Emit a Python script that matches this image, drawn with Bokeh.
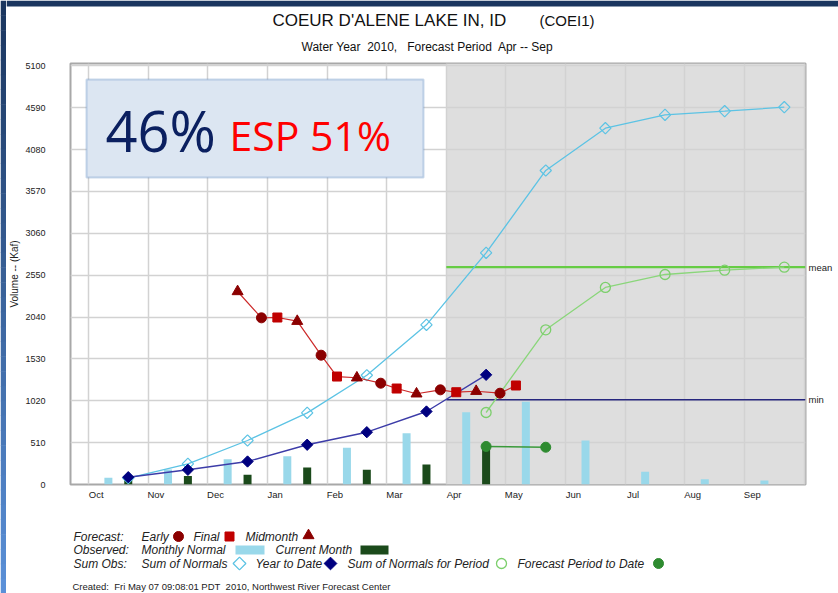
from bokeh.plotting import figure
from bokeh.layouts import column, row
from bokeh.models import (Range1d, FixedTicker, CustomJSTickFormatter,
                          BoxAnnotation, Label, LinearAxis)
from bokeh.embed import file_html
from bokeh.resources import INLINE

# ---------------- data ----------------
months = ["Oct", "Nov", "Dec", "Jan", "Feb", "Mar",
          "Apr", "May", "Jun", "Jul", "Aug", "Sep"]
y_ticks = [0, 510, 1020, 1530, 2040, 2550, 3060, 3570, 4080, 4590, 5100]

# observed (Kaf)
monthly_normal = [82, 183, 307, 343, 447, 625, 879, 1007, 536, 155, 65, 49]
current_month = [89, 104, 118, 207, 179, 244, 463]          # Oct..Apr

# cumulative sums (Kaf), plotted on day 21 of each month
sum_of_normals = [79, 252, 536, 873, 1331, 1945, 2822, 3825, 4340, 4503, 4547, 4596]
year_to_date = [89, 179, 280, 484, 637, 889, 1336]             # Oct..Apr
period_months = ["Apr", "May", "Jun", "Jul", "Aug", "Sep"]
sum_normals_for_period = [877, 1884, 2400, 2558, 2610, 2647]
forecast_period_to_date = [463, 454]                           # Apr, May

# forecasts (Kaf) with (month, day) of issue
early_dates = [("Dec", 28), ("Jan", 28), ("Feb", 28), ("Mar", 28), ("Apr", 28)]
early_values = [2030, 1575, 1234, 1153, 1112]
final_dates = [("Jan", 6), ("Feb", 6), ("Mar", 6), ("Apr", 6), ("May", 6)]
final_values = [2034, 1315, 1169, 1124, 1206]
mid_dates = [("Dec", 16), ("Jan", 16), ("Feb", 16), ("Mar", 16), ("Apr", 16)]
mid_values = [2351, 1989, 1300, 1105, 1136]

mean_value = 2647
min_value = 1032
forecast_period_start = "Apr"

# ---------------- colours / styles ----------------
C_NORMAL_BAR = "#99d8ea"
C_CURRENT_BAR = "#1b4a1b"
C_SUMNORM = "#5cc3e4"
C_YTD = "#00007f"
C_YTD_LINE = "#3c3ca8"
C_PERIOD = "#7ccf6c"
C_PTD = "#2e8b30"
C_EARLY = "#8b0000"
C_FINAL = "#c00000"
C_MID = "#8b0000"
FONT = "Liberation Sans"
TXT = "#222222"

# ---------------- helpers ----------------
def mx(month, day):
    return months.index(month) + (day - 1) / 30.0

PXM = 59.64      # px per month
X0 = 88.0        # page px of Oct 1
SY = 0.0821      # px per Kaf
Y0 = 484.0       # page px of 0 Kaf

def dx(X):
    return (X - X0) / PXM

def dy(Y):
    return (Y0 - Y) / SY

def no_align(f):
    if hasattr(f, "frame_align"):
        f.frame_align = False

def pixel_fig(w, h, x0, y0):
    f = figure(width=w, height=h, x_range=Range1d(x0, x0 + w),
               y_range=Range1d(y0 + h, y0), x_axis_type=None, y_axis_type=None,
               output_backend="svg", toolbar_location=None,
               min_border=0, min_border_left=0, min_border_right=0,
               min_border_top=0, min_border_bottom=0)
    f.outline_line_color = None
    f.background_fill_color = "white"
    f.border_fill_color = "white"
    f.xgrid.visible = False
    f.ygrid.visible = False
    no_align(f)
    return f

def label(f, X, Y, txt, size="12px", style="normal", align="left",
          font=FONT, color=TXT):
    f.add_layout(Label(x=X, y=Y, text=txt, text_font=font,
                       text_font_size=size, text_font_style=style,
                       text_color=color, text_baseline="middle",
                       text_align=align))

# ---------------- left decorative strip ----------------
strip = pixel_fig(6, 593, 0, 0)
top_rgb = (0x1b, 0x36, 0x5f)
bot_rgb = (0x5a, 0x90, 0xd8)
nb = 40
for k in range(nb):
    t = k / (nb - 1)
    col = "#%02x%02x%02x" % tuple(int(a + (b - a) * t) for a, b in zip(top_rgb, bot_rgb))
    strip.quad(left=0, right=6, top=593 * k / nb, bottom=593 * (k + 1) / nb + 0.5,
               fill_color=col, line_color=None)

# ---------------- title panel ----------------
head = pixel_fig(832, 55, 6, 0)
head.quad(left=6, right=838, top=0, bottom=6, fill_color="#1b365f", line_color=None)
label(head, 272, 20, "COEUR D'ALENE LAKE IN, ID", size="17px", color="#111111")
label(head, 539, 20, "(COEI1)", size="15px", color="#111111")
label(head, 427, 46, "Water Year\u00a0 2010,\u00a0\u00a0 Forecast Period\u00a0 Apr -- Sep",
      size="12px", align="center", color="#111111")

# ---------------- main chart ----------------
fig = figure(width=832, height=455,
             x_range=Range1d(dx(70), dx(805)), y_range=Range1d(0, dy(63)),
             output_backend="svg", toolbar_location=None,
             min_border_left=64, min_border_right=33,
             min_border_top=8, min_border_bottom=26)
no_align(fig)
fig.background_fill_color = "white"
fig.border_fill_color = "white"
fig.outline_line_color = "#a8a8a8"
fig.outline_line_width = 2

fig.add_layout(BoxAnnotation(left=months.index(forecast_period_start),
                             fill_color="#dedede", fill_alpha=1,
                             line_color=None, level="image"))

fig.xgrid.ticker = FixedTicker(ticks=list(range(13)))
fig.ygrid.ticker = FixedTicker(ticks=y_ticks)
for g in (fig.xgrid, fig.ygrid):
    g.grid_line_color = "#d2d2d2"
    g.grid_line_width = 1.5

fig.yaxis.ticker = FixedTicker(ticks=y_ticks)
fig.xaxis.ticker = FixedTicker(ticks=[i + 0.13 for i in range(len(months))])
fig.xaxis.formatter = CustomJSTickFormatter(
    args=dict(names=months), code="return names[Math.floor(tick)] || '';")

right_axis = LinearAxis(ticker=FixedTicker(ticks=[min_value, mean_value]),
                        major_label_overrides={min_value: "min", mean_value: "mean"})
fig.add_layout(right_axis, "right")

for ax in (fig.xaxis[0], fig.yaxis[0], right_axis):
    ax.axis_line_color = None
    ax.major_tick_line_color = None
    ax.minor_tick_line_color = None
    ax.major_tick_out = 0
    ax.minor_tick_out = 0
    ax.major_label_text_font = FONT
    ax.major_label_text_color = TXT
fig.yaxis[0].major_label_text_font_size = "9px"
fig.xaxis[0].major_label_text_font_size = "9.5px"
right_axis.major_label_text_font_size = "9.5px"
fig.yaxis[0].major_label_standoff = 25
fig.xaxis[0].major_label_standoff = 4
right_axis.major_label_standoff = 3
fig.yaxis[0].axis_label = "Volume -- (Kaf)"
fig.yaxis[0].axis_label_text_font = FONT
fig.yaxis[0].axis_label_text_font_size = "10px"
fig.yaxis[0].axis_label_text_font_style = "normal"
fig.yaxis[0].axis_label_text_color = TXT
fig.yaxis[0].axis_label_standoff = 2

# bars
fig.vbar(x=[i + 10 / 30 for i in range(len(monthly_normal))], top=monthly_normal,
         width=8 / PXM, fill_color=C_NORMAL_BAR, line_color=None)
fig.vbar(x=[i + 20 / 30 for i in range(len(current_month))], top=current_month,
         width=8 / PXM, fill_color=C_CURRENT_BAR, line_color=None)

# reference lines (forecast period)
start_x = months.index(forecast_period_start)
end_x = dx(805)
fig.line([start_x, end_x], [mean_value, mean_value], line_color="#66cc44", line_width=2.2)
fig.line([start_x, end_x], [min_value, min_value], line_color="#26267e", line_width=1.5)

# sum of normals
xs_norm = [i + 20 / 30 for i in range(len(sum_of_normals))]
fig.line(xs_norm, sum_of_normals, line_color=C_SUMNORM, line_width=1.3)
fig.scatter(xs_norm, sum_of_normals, marker="square", angle=0.785398, size=8,
            fill_alpha=0, line_color=C_SUMNORM, line_width=1.2)

# sum of normals for period
xs_per = [months.index(m) + 20 / 30 for m in period_months]
fig.line(xs_per, sum_normals_for_period, line_color="#8ad67a", line_width=1.3)
fig.scatter(xs_per, sum_normals_for_period, marker="circle", size=10,
            fill_alpha=0, line_color=C_PERIOD, line_width=1.3)

# forecast period to date
xs_ptd = xs_per[:len(forecast_period_to_date)]
fig.line(xs_ptd, forecast_period_to_date, line_color="#3a9a3a", line_width=1.5)
fig.scatter(xs_ptd, forecast_period_to_date, marker="circle", size=10,
            fill_color=C_PTD, line_color=C_PTD)

# year to date
xs_ytd = [i + 20 / 30 for i in range(len(year_to_date))]
fig.line(xs_ytd, year_to_date, line_color=C_YTD_LINE, line_width=1.4)
fig.scatter(xs_ytd, year_to_date, marker="square", angle=0.785398, size=8,
            fill_color=C_YTD, line_color=C_YTD)

# forecasts (one line through all issues in time order)
ex = [mx(m, d) for m, d in early_dates]
fx = [mx(m, d) for m, d in final_dates]
tx = [mx(m, d) for m, d in mid_dates]
allpts = sorted(list(zip(ex, early_values)) + list(zip(fx, final_values))
                + list(zip(tx, mid_values)))
fig.line([a for a, b in allpts], [b for a, b in allpts],
         line_color="#cc2a2a", line_width=1.2)
fig.scatter(ex, early_values, marker="circle", size=10,
            fill_color=C_EARLY, line_color=C_EARLY)
fig.scatter(fx, final_values, marker="square", size=9,
            fill_color=C_FINAL, line_color=C_FINAL)
fig.scatter(tx, mid_values, marker="triangle", size=11,
            fill_color=C_MID, line_color=C_MID)

# percentage box
fig.add_layout(BoxAnnotation(left=dx(86), right=dx(423), top=dy(79), bottom=dy(177),
                             fill_color="#dce6f2", fill_alpha=1,
                             line_color="#4f81bd", line_width=2))
fig.add_layout(Label(x=dx(105), y=dy(129), text="46%", text_font="Open Sans",
                     text_font_size="56px", text_color="#0b2060",
                     text_baseline="middle", text_align="left"))
fig.add_layout(Label(x=dx(229), y=dy(134), text="ESP 51%", text_font="Open Sans",
                     text_font_size="41px", text_color="#ff0000",
                     text_baseline="middle", text_align="left"))

# ---------------- legend panel ----------------
leg = pixel_fig(832, 83, 6, 510)
r1, r2, r3 = 536, 549, 563
label(leg, 73, r1, "Forecast:", style="italic")
label(leg, 141, r1, "Early", style="italic")
leg.scatter([178], [r1], marker="circle", size=10, fill_color=C_EARLY, line_color=C_EARLY)
label(leg, 193, r1, "Final", style="italic")
leg.scatter([229], [r1], marker="square", size=9, fill_color=C_FINAL, line_color=C_FINAL)
label(leg, 245, r1, "Midmonth", style="italic")
leg.scatter([308], [r1 - 1], marker="triangle", size=11, fill_color=C_MID, line_color=C_MID)

label(leg, 73, r2, "Observed:", style="italic")
label(leg, 141, r2, "Monthly Normal", style="italic")
leg.quad(left=235, right=264, top=545, bottom=554, fill_color=C_NORMAL_BAR, line_color=None)
label(leg, 275, r2, "Current Month", style="italic")
leg.quad(left=360, right=388, top=545, bottom=554, fill_color=C_CURRENT_BAR, line_color=None)

label(leg, 73, r3, "Sum Obs:", style="italic")
label(leg, 141, r3, "Sum of Normals", style="italic")
leg.scatter([239], [r3], marker="square", angle=0.785398, size=9,
            fill_alpha=0, line_color=C_SUMNORM, line_width=1.3)
label(leg, 255, r3, "Year to Date", style="italic")
leg.scatter([330], [r3], marker="square", angle=0.785398, size=9,
            fill_color=C_YTD, line_color=C_YTD)
label(leg, 347, r3, "Sum of Normals for Period", style="italic")
leg.scatter([501], [r3], marker="circle", size=10, fill_alpha=0,
            line_color=C_PERIOD, line_width=1.3)
label(leg, 517, r3, "Forecast Period to Date", style="italic")
leg.scatter([658], [r3], marker="circle", size=10, fill_color=C_PTD, line_color=C_PTD)

label(leg, 72, 586,
      "Created:\u00a0 Fri May 07 09:08:01 PDT\u00a0 2010, Northwest River Forecast Center",
      size="9.5px")

p = row(strip, column(head, fig, leg, spacing=0), spacing=0)

open("out.html", "w").write(file_html(p, INLINE))
